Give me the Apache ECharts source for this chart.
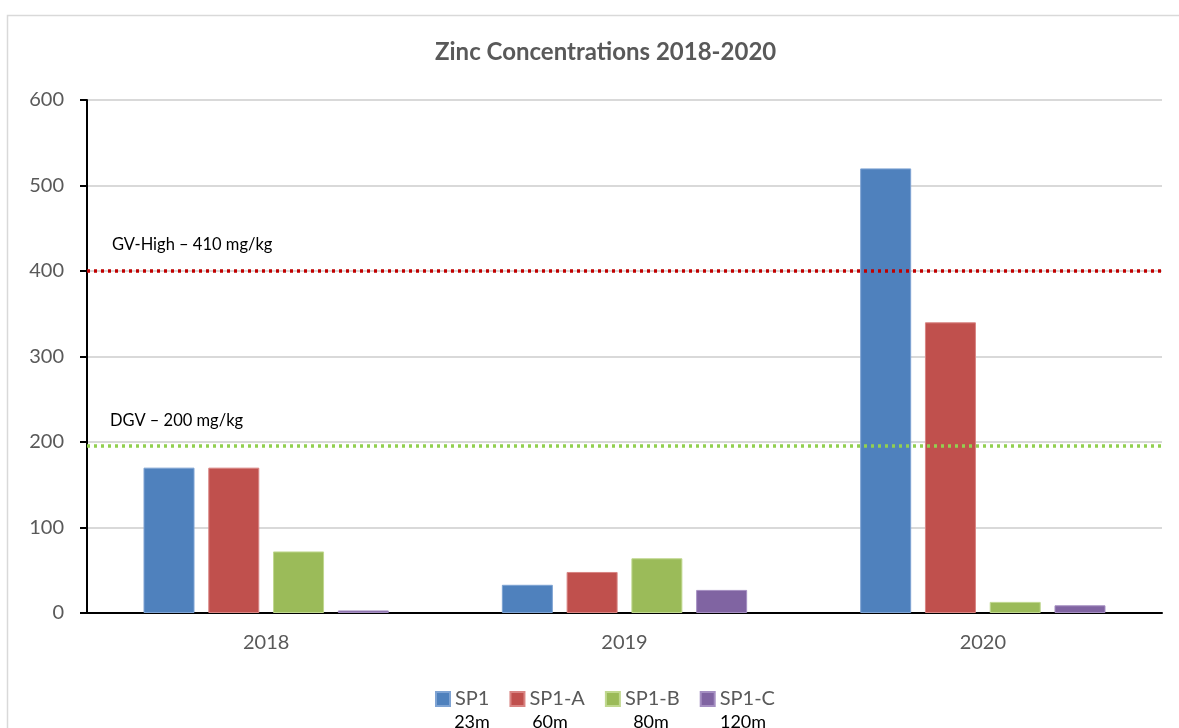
<!DOCTYPE html>
<html>
<head>
<meta charset="utf-8">
<script src="https://cdn.jsdelivr.net/npm/echarts@6/dist/echarts.min.js"></script>
<style>html,body{margin:0;padding:0;background:#fff}#c{width:1179px;height:728px}</style>
</head>
<body>
<div id="c"></div>
<script>
var categories = ['2018', '2019', '2020'];
var seriesNames = ['SP1', 'SP1-A', 'SP1-B', 'SP1-C'];
var depthLabels = ['23m', '60m', '80m', '120m'];
var sp1 = [170, 33, 520];
var sp1a = [170, 48, 340];
var sp1b = [72, 64, 13];
var sp1c = [3, 27, 9];
var gvHigh = 400;
var dgv = 196;
var gvHighLabel = 'GV-High \u2013 410 mg/kg';
var dgvLabel = 'DGV \u2013 200 mg/kg';
var yTicks = [0, 100, 200, 300, 400, 500, 600];

var colors = ['#4f81bd', '#c0504d', '#9bbb59', '#8064a2'];
var borders = ['#7ea3d3', '#d98583', '#c0d88f', '#a58fc2'];
var values = [sp1, sp1a, sp1b, sp1c];
var font = 'Lato, "Open Sans", sans-serif';

var chart = echarts.init(document.getElementById('c'));
var series = values.map(function (v, i) {
  return {
    name: seriesNames[i],
    type: 'bar',
    data: v,
    barWidth: 51,
    barGap: '27%',
    itemStyle: { color: colors[i], borderColor: borders[i], borderWidth: 1 }
  };
});
series[0].markLine = {
  symbol: 'none',
  silent: true,
  label: { show: false },
  data: [
    { yAxis: gvHigh, lineStyle: { color: '#c00000', type: [3, 4], width: 3.5 } },
    { yAxis: dgv, lineStyle: { color: '#92d050', type: [3, 4], width: 3.5 } }
  ]
};

chart.setOption({
  animation: false,
  title: {
    text: 'Zinc Concentrations 2018-2020',
    left: 430,
    top: 35,
    textStyle: { fontFamily: font, fontSize: 24, fontWeight: 'bold', color: '#595959' }
  },
  legend: {
    data: seriesNames,
    bottom: 14,
    left: 430,
    itemWidth: 14,
    itemHeight: 14,
    itemGap: 20,
    icon: 'rect',
    textStyle: { fontFamily: font, fontSize: 20, color: '#595959' }
  },
  grid: { left: 87, right: 17, top: 100, bottom: 115, containLabel: false },
  xAxis: {
    type: 'category',
    data: categories,
    axisLine: { lineStyle: { color: '#000', width: 2 } },
    axisTick: { show: false },
    axisLabel: { fontFamily: font, fontSize: 20, color: '#595959', margin: 20 }
  },
  yAxis: {
    type: 'value',
    min: 0,
    max: 600,
    interval: 100,
    axisLine: { show: true, lineStyle: { color: '#000', width: 2 } },
    axisTick: { show: true, length: 7, lineStyle: { color: '#000', width: 2 } },
    axisLabel: { fontFamily: font, fontSize: 20, color: '#595959', margin: 23,
      formatter: function (v) { return yTicks.indexOf(v) >= 0 ? String(v) : ''; } },
    splitLine: { lineStyle: { color: '#d9d9d9', width: 2 } }
  },
  series: series,
  graphic: [
    { type: 'rect', left: 5, top: 13, shape: { width: 1190, height: 740 },
      style: { fill: 'none', stroke: '#d9d9d9', lineWidth: 1.5 }, z: -1 },
    { type: 'text', left: 112, top: 236, style: { text: gvHighLabel, fontFamily: font, fontSize: 16.5, fill: '#000' } },
    { type: 'text', left: 110, top: 412, style: { text: dgvLabel, fontFamily: font, fontSize: 16.5, fill: '#000' } },
    { type: 'text', x: 472, y: 722, style: { text: depthLabels[0], fontFamily: font, fontSize: 18, fill: '#000', align: 'center', verticalAlign: 'middle' } },
    { type: 'text', x: 550, y: 722, style: { text: depthLabels[1], fontFamily: font, fontSize: 18, fill: '#000', align: 'center', verticalAlign: 'middle' } },
    { type: 'text', x: 651, y: 722, style: { text: depthLabels[2], fontFamily: font, fontSize: 18, fill: '#000', align: 'center', verticalAlign: 'middle' } },
    { type: 'text', x: 743, y: 722, style: { text: depthLabels[3], fontFamily: font, fontSize: 18, fill: '#000', align: 'center', verticalAlign: 'middle' } }
  ]
});
</script>
</body>
</html>
